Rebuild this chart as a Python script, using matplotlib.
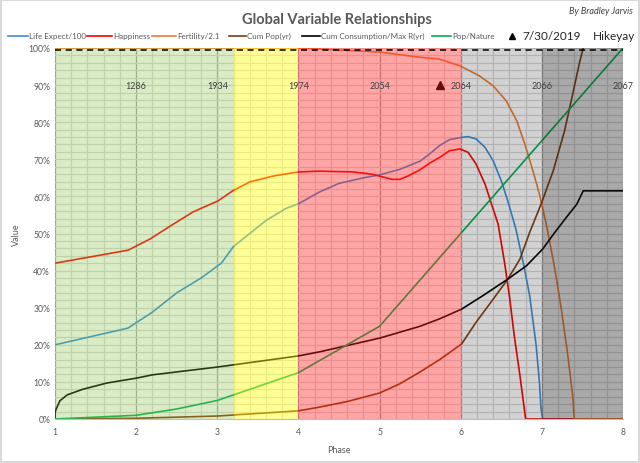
import numpy as np
import matplotlib.pyplot as plt
from matplotlib.lines import Line2D
from matplotlib.ticker import MultipleLocator, PercentFormatter

plt.rcParams['font.family'] = ['Lato', 'DejaVu Sans']

# --- data (x = phase, y = fraction) ---
life_x = [1, 1.9, 2.2, 2.5, 2.8, 3.05, 3.2, 3.4, 3.6, 3.85, 4.0, 4.26, 4.5, 4.8, 5.0,
          5.25, 5.5, 5.62, 5.74, 5.86, 6.01, 6.09, 6.19, 6.30, 6.40, 6.50, 6.58, 6.68,
          6.77, 6.85, 6.93, 6.97, 6.99, 7.01, 8.0]
life_y = [0.20, 0.245, 0.288, 0.34, 0.38, 0.42, 0.465, 0.50, 0.535, 0.568, 0.58, 0.612,
          0.635, 0.65, 0.658, 0.673, 0.695, 0.715, 0.737, 0.753, 0.759, 0.761, 0.755,
          0.732, 0.696, 0.642, 0.588, 0.512, 0.422, 0.332, 0.198, 0.099, 0.027, 0.0, 0.0]

happy_x = [1, 1.9, 2.17, 2.42, 2.7, 3.01, 3.19, 3.4, 3.69, 4.0, 4.26, 4.67, 4.9, 5.05,
           5.15, 5.25, 5.35, 5.5, 5.62, 5.74, 5.86, 5.99, 6.09, 6.19, 6.30, 6.38, 6.46,
           6.54, 6.60, 6.66, 6.73, 6.80, 8.0]
happy_y = [0.42, 0.455, 0.485, 0.52, 0.558, 0.588, 0.615, 0.639, 0.655, 0.666, 0.668,
           0.666, 0.66, 0.652, 0.646, 0.646, 0.655, 0.672, 0.69, 0.705, 0.723, 0.728,
           0.719, 0.687, 0.633, 0.579, 0.526, 0.422, 0.332, 0.224, 0.117, 0.0, 0.0]

fert_x = [1, 4, 4.3, 5, 5.5, 5.74, 5.99, 6.23, 6.40, 6.56, 6.69, 6.79, 6.89, 6.97,
          7.06, 7.16, 7.24, 7.32, 7.38, 7.40, 8]
fert_y = [1, 1, 0.997, 0.989, 0.975, 0.97, 0.952, 0.925, 0.898, 0.858, 0.804, 0.741,
          0.669, 0.606, 0.52, 0.404, 0.296, 0.171, 0.063, 0.0, 0.0]

cpop_x = [1, 2, 3, 4, 4.26, 4.6, 5.0, 5.25, 5.5, 5.74, 6.01, 6.19, 6.40, 6.58, 6.73,
          6.85, 6.99, 7.14, 7.28, 7.38, 7.47, 7.51]
cpop_y = [0, 0.002, 0.008, 0.022, 0.032, 0.047, 0.07, 0.095, 0.127, 0.16, 0.202, 0.261,
          0.323, 0.377, 0.431, 0.503, 0.579, 0.669, 0.777, 0.876, 0.966, 1.0]

ccons_x = [1, 1.003, 1.025, 1.06, 1.15, 1.34, 1.64, 2.0, 2.2, 3.0, 4.0, 4.26, 5.0, 5.5,
           5.74, 6.01, 6.27, 6.58, 6.81, 7.01, 7.16, 7.30, 7.43, 7.51, 8.0]
ccons_y = [0, 0.02, 0.032, 0.049, 0.065, 0.08, 0.097, 0.11, 0.119, 0.14, 0.17, 0.181,
           0.218, 0.25, 0.27, 0.296, 0.332, 0.377, 0.413, 0.458, 0.503, 0.543, 0.579,
           0.615, 0.615]

popnat_x = [1, 2, 2.5, 3, 4, 5, 8]
popnat_y = [0, 0.01, 0.027, 0.05, 0.125, 0.25, 1.0]

year_x = [2, 3, 4, 5, 6, 7, 8]
year_labels = ['1286', '1934', '1974', '2054', '2064', '2066', '2067']
year_level = 0.9

today_x = [5.74]
today_y = [0.9]
limit_level = 0.995

band_edges = [1, 3.2, 4, 6, 7, 8]
band_colors = ['#84c341', '#ffff16', '#ff2020', '#1e1e1e', '#1f1f1f']
band_alpha = [0.3, 0.45, 0.4, 0.2, 0.38]

c_life = '#3a8fd8'
c_happy = '#ff0000'
c_fert = '#ed7d31'
c_cpop = '#843c0c'
c_ccons = '#000000'
c_pop = '#00b050'

W, H = 640, 464
fig = plt.figure(figsize=(6.4, 4.64), dpi=100)
fig.patch.set_edgecolor('#d9d9d9')
fig.patch.set_linewidth(1.5)
ax = fig.add_axes([55 / W, 1 - 420 / H, 568 / W, 371 / H])

ax.set_xlim(1, 8)
ax.set_ylim(0, 1)
ax.xaxis.set_major_locator(MultipleLocator(1))
ax.xaxis.set_minor_locator(MultipleLocator(0.2))
ax.yaxis.set_major_locator(MultipleLocator(0.1))
ax.yaxis.set_minor_locator(MultipleLocator(0.02))
ax.yaxis.set_major_formatter(PercentFormatter(1.0, decimals=0))
ax.set_axisbelow(True)
ax.grid(which='minor', color='#d9d9d9', lw=0.9)
ax.grid(which='major', axis='y', color='#d9d9d9', lw=0.9)
ax.grid(which='major', axis='x', color='#a6a6a6', lw=0.9)
ax.tick_params(which='both', length=0, labelsize=6.2, colors='#595959')
ax.tick_params(axis='x', pad=6)
for s in ['top', 'right', 'left']:
    ax.spines[s].set_visible(False)
ax.spines['bottom'].set_color('#bfbfbf')
ax.spines['bottom'].set_zorder(5)

lw = 1.2
ax.plot(life_x, life_y, color=c_life, lw=lw, zorder=2)
ax.plot(happy_x, happy_y, color=c_happy, lw=lw, zorder=2)
ax.plot(fert_x, fert_y, color=c_fert, lw=lw, zorder=2)
ax.plot(cpop_x, cpop_y, color=c_cpop, lw=lw, zorder=2)
ax.plot(ccons_x, ccons_y, color=c_ccons, lw=lw, zorder=2)
ax.plot(popnat_x, popnat_y, color=c_pop, lw=lw, zorder=2)
ax.plot(today_x, today_y, marker='^', color='black', ms=6, ls='none', zorder=2)

# translucent phase bands laid over the lines (tints them like the original)
for i in range(len(band_colors)):
    ax.axvspan(band_edges[i], band_edges[i + 1], color=band_colors[i],
               alpha=band_alpha[i], lw=0, zorder=3)

ax.axhline(limit_level, color='black', lw=1.1, ls=(0, (4, 3)), zorder=4)

for x, lab in zip(year_x, year_labels):
    ax.text(x, year_level, lab, ha='center', va='center', fontsize=6.5,
            color='#404040', zorder=4)

ax.set_xlabel('Phase', fontsize=6.5, color='#595959', labelpad=6)
ax.set_ylabel('Value', fontsize=6.5, color='#595959', labelpad=5)

# title and notes
fig.text(337 / W, 1 - 20 / H, 'Global Variable Relationships', ha='center', va='center',
         fontsize=10.5, fontweight='bold', color='#595959')
fig.text(633 / W, 1 - 12 / H, 'By Bradley Jarvis', ha='right', va='center',
         fontsize=6.5, style='italic', color='#404040')

# legend row
leg_y = 1 - 36.5 / H
entries = [('Life Expect/100', c_life, 8, 28),
           ('Happiness', c_happy, 87, 112),
           ('Fertility/2.1', c_fert, 152, 176),
           ('Cum Pop(yr)', c_cpop, 229, 246),
           ('Cum Consumption/Max R(yr)', c_ccons, 302, 320),
           ('Pop/Nature', c_pop, 432, 451)]
for lab, col, x0, x1 in entries:
    fig.add_artist(Line2D([x0 / W, x1 / W], [leg_y, leg_y], color=col, lw=1.2,
                          transform=fig.transFigure))
    fig.text((x1 + 1) / W, leg_y, lab, ha='left', va='center', fontsize=5.8,
             color='#595959')
fig.add_artist(Line2D([512 / W], [leg_y], marker='^', color='black', ms=4.5,
                      ls='none', transform=fig.transFigure))
fig.text(522 / W, leg_y, '7/30/2019', ha='left', va='center', fontsize=8.5,
         color='#262626')
fig.text(635 / W, leg_y, 'Hikeyay', ha='right', va='center', fontsize=8.5,
         color='#262626')

fig.savefig('out.png', dpi=100)
